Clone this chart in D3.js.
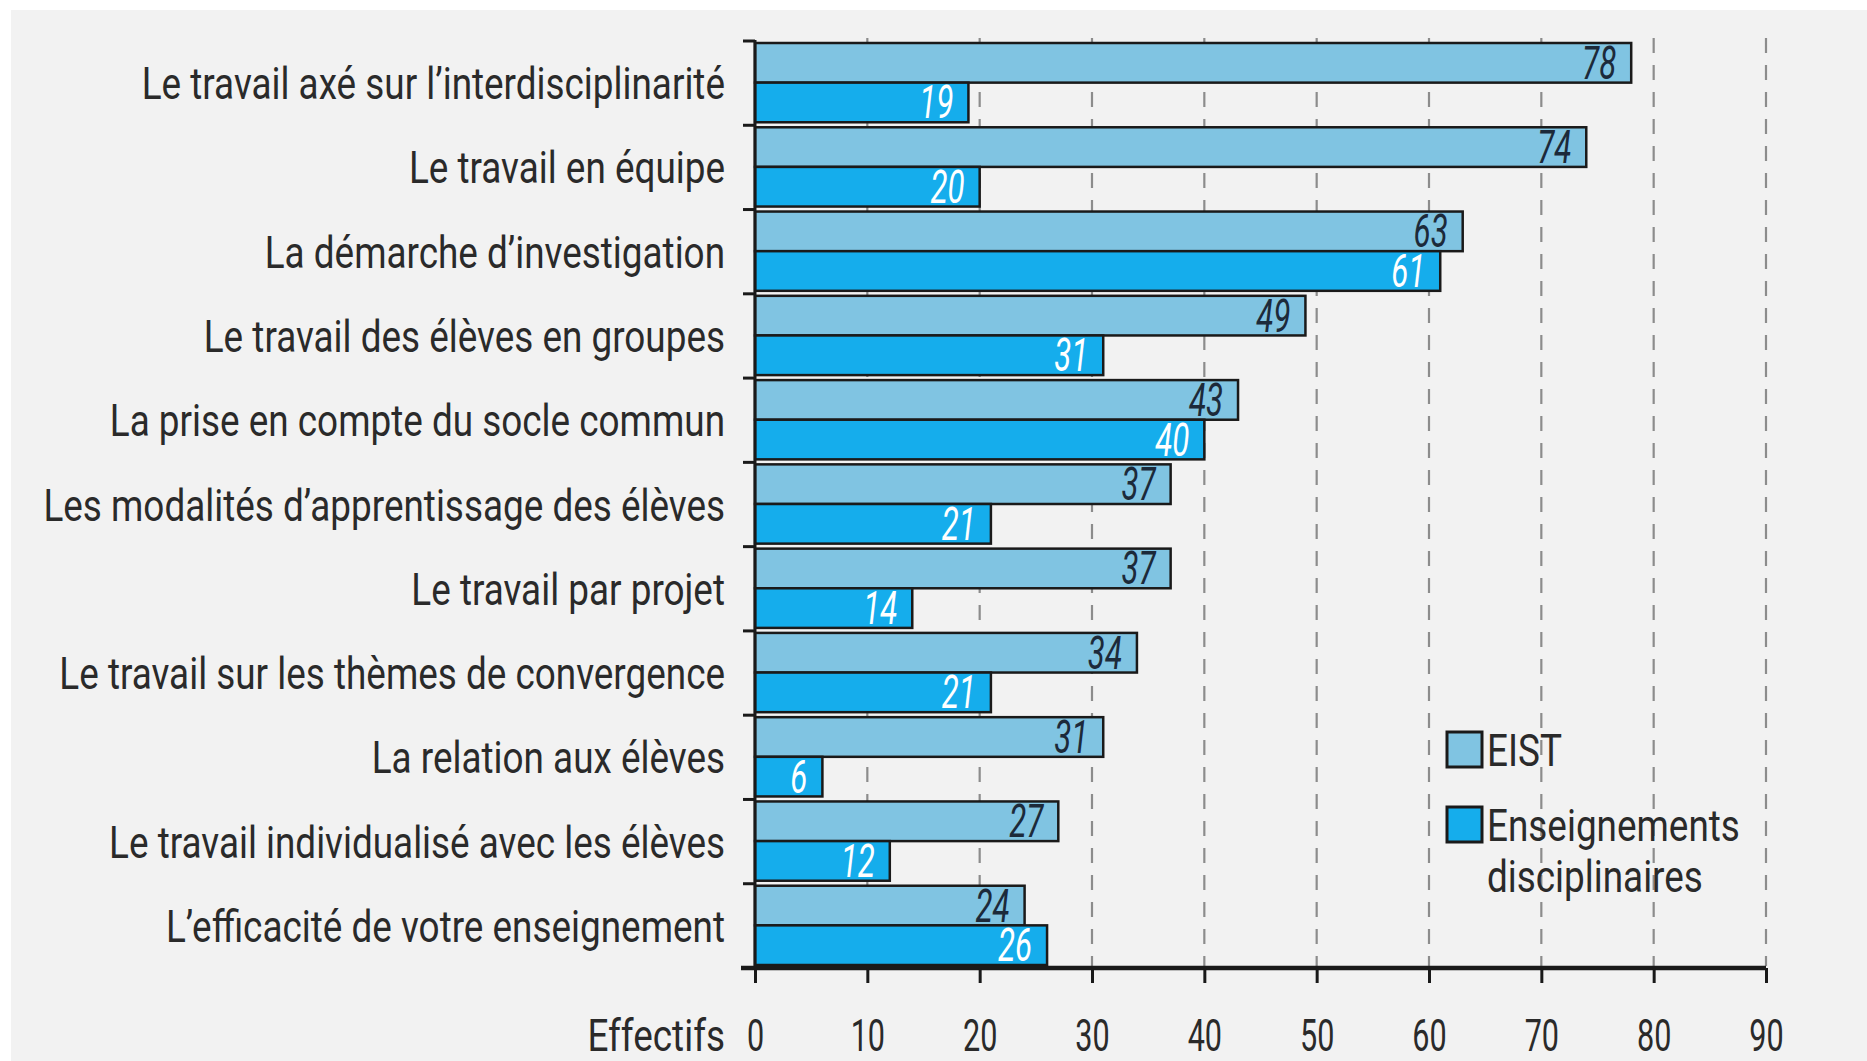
<!DOCTYPE html>
<html>
<head>
<meta charset="utf-8">
<script src="https://cdn.jsdelivr.net/npm/d3@7"></script>
<style>
  html, body { margin: 0; padding: 0; background: #ffffff; }
  svg { display: block; }
  text { font-family: Roboto, "Liberation Sans", sans-serif; fill: #2a2a2a; }
</style>
</head>
<body>
<svg id="chart" width="1867" height="1061"></svg>
<script>
const categories = [
  "Le travail axé sur l’interdisciplinarité",
  "Le travail en équipe",
  "La démarche d’investigation",
  "Le travail des élèves en groupes",
  "La prise en compte du socle commun",
  "Les modalités d’apprentissage des élèves",
  "Le travail par projet",
  "Le travail sur les thèmes de convergence",
  "La relation aux élèves",
  "Le travail individualisé avec les élèves",
  "L’efficacité de votre enseignement"
];
const seriesNames = ["EIST", "Enseignements disciplinaires"];
const eistValues = [78, 74, 63, 49, 43, 37, 37, 34, 31, 27, 24];
const disciplinairesValues = [19, 20, 61, 31, 40, 21, 14, 21, 6, 12, 26];
const xTicks = [0, 10, 20, 30, 40, 50, 60, 70, 80, 90];
const axisTitle = "Effectifs";
const legendLines = [["EIST"], ["Enseignements", "disciplinaires"]];
const colors = ["#80c4e2", "#15adec"];
const labelColors = ["#1c2a3a", "#ffffff"];

const svg = d3.select("#chart");
const SXT = 0.82; // condensation for words
const SXN = 0.68; // condensation for numbers

// background panel
svg.append("rect").attr("x", 11).attr("y", 10).attr("width", 1867 - 11).attr("height", 1061 - 10).attr("fill", "#f2f2f2");

const x = d3.scaleLinear().domain([0, 90]).range([755, 1766]);
const y = d3.scaleBand().domain(categories).range([41, 968]).padding(0);
const yi = d3.scaleBand().domain(seriesNames).range([2, y.bandwidth() - 3]).padding(0);

// dashed grid
svg.append("g").selectAll("line").data(xTicks.filter(d => d > 0)).join("line")
  .attr("x1", d => x(d)).attr("x2", d => x(d))
  .attr("y1", 38).attr("y2", 966)
  .attr("stroke", "#8c8c8c").attr("stroke-width", 2.2)
  .attr("stroke-dasharray", "15,12");

// bars
const rows = categories.map((c, i) => ({ c, vals: [eistValues[i], disciplinairesValues[i]] }));
const groups = svg.append("g").selectAll("g").data(rows).join("g")
  .attr("transform", d => `translate(0,${y(d.c)})`);

groups.selectAll("rect").data(d => d.vals.map((v, k) => ({ v, k }))).join("rect")
  .attr("x", x(0))
  .attr("y", d => yi(seriesNames[d.k]))
  .attr("width", d => x(d.v) - x(0))
  .attr("height", yi.bandwidth())
  .attr("fill", d => colors[d.k])
  .attr("stroke", "#1a1a1a").attr("stroke-width", 2.5);

groups.selectAll("text").data(d => d.vals.map((v, k) => ({ v, k }))).join("text")
  .attr("transform", d => `translate(${x(d.v) - 15},${yi(seriesNames[d.k]) + yi.bandwidth() / 2 + 16}) scale(${SXN},1)`)
  .attr("text-anchor", "end")
  .attr("font-size", 46)
  .attr("font-style", "italic")
  .style("fill", d => labelColors[d.k])
  .text(d => d.v);

// y axis line and boundary ticks
svg.append("line").attr("x1", x(0)).attr("x2", x(0)).attr("y1", 40).attr("y2", 969)
  .attr("stroke", "#1a1a1a").attr("stroke-width", 3);
const bounds = categories.map(c => y(c)).concat([968]);
svg.append("g").selectAll("line").data(bounds).join("line")
  .attr("x1", 743).attr("x2", x(0)).attr("y1", d => d).attr("y2", d => d)
  .attr("stroke", "#1a1a1a").attr("stroke-width", 3);

// category labels
svg.append("g").selectAll("text").data(categories).join("text")
  .attr("transform", d => `translate(725,${y(d) + y.bandwidth() / 2 + 16}) scale(${SXT},1)`)
  .attr("text-anchor", "end")
  .attr("font-size", 45)
  .text(d => d);

// x axis
const xAxis = svg.append("g").attr("transform", "translate(0,968)")
  .call(d3.axisBottom(x).tickValues(xTicks).tickSize(15).tickSizeOuter(0).tickFormat(d3.format("d")));
xAxis.select(".domain").attr("stroke", "#1a1a1a").attr("stroke-width", 4.5).attr("d", `M741,0H${x(90)}`);
xAxis.selectAll(".tick line").attr("stroke", "#1a1a1a").attr("stroke-width", 3);
xAxis.selectAll(".tick text")
  .attr("y", 0).attr("dy", null)
  .attr("transform", `translate(0,83) scale(${SXN},1)`)
  .attr("font-size", 45)
  .attr("font-family", "Roboto, sans-serif")
  .style("fill", "#2a2a2a");

svg.append("text")
  .attr("transform", `translate(725,1051) scale(${SXT},1)`)
  .attr("text-anchor", "end").attr("font-size", 45).text(axisTitle);

// legend
const legend = svg.append("g");
const legY = [732, 807];
legendLines.forEach((lines, k) => {
  legend.append("rect").attr("x", 1447).attr("y", legY[k]).attr("width", 35).attr("height", 35)
    .attr("fill", colors[k]).attr("stroke", "#1a1a1a").attr("stroke-width", 3);
  lines.forEach((t, j) => {
    legend.append("text")
      .attr("transform", `translate(1487,${legY[k] + 34 + j * 51}) scale(${SXT},1)`)
      .attr("font-size", 45).text(t);
  });
});
</script>
</body>
</html>
